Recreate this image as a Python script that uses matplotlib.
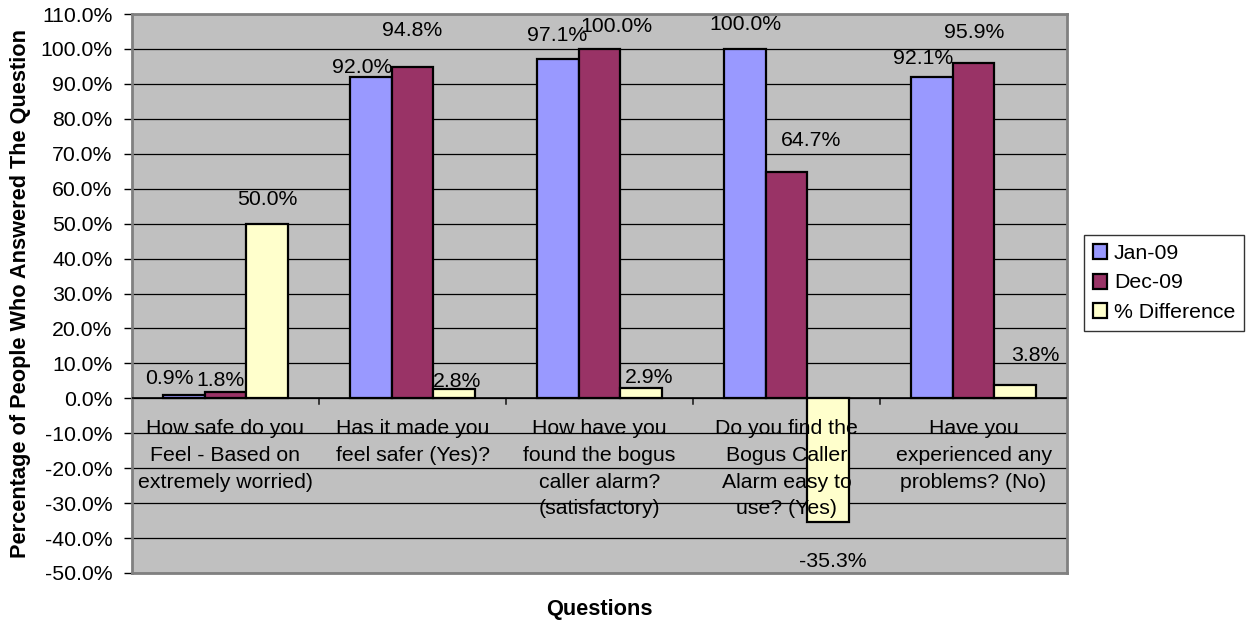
import matplotlib
matplotlib.use("Agg")
import matplotlib.pyplot as plt
import numpy as np

categories = [
    "How safe do you\nFeel - Based on\nextremely worried)",
    "Has it made you\nfeel safer (Yes)?",
    "How have you\nfound the bogus\ncaller alarm?\n(satisfactory)",
    "Do you find the\nBogus Caller\nAlarm easy to\nuse? (Yes)",
    "Have you\nexperienced any\nproblems? (No)",
]
series_names = ["Jan-09", "Dec-09", "% Difference"]
jan09 = [0.9, 92.0, 97.1, 100.0, 92.1]
dec09 = [1.8, 94.8, 100.0, 64.7, 95.9]
pct_diff = [50.0, 2.8, 2.9, -35.3, 3.8]
yticks = list(range(-50, 111, 10))

colors = ["#9999FF", "#993366", "#FFFFCC"]

# label offsets (pixels) relative to bar end, mimicking Excel's placement
label_offsets = [
    [(-15, 17), (-9, 9), (-1, 24), (0, 24), (-9, 18)],
    [(-5, 12), (0, 37), (17, 22), (25, 32), (1, 31)],
    [(0, 24), (3, 7), (8, 11), (5, -40), (20, 30)],
]

plt.rcParams['font.family'] = ['Liberation Sans', 'DejaVu Sans']
fs = 15.3
fs_title = 15.7

fig = plt.figure(figsize=(12.51, 6.21), dpi=100)
ax = fig.add_axes([132/1251, 1-573/621, (1067-132)/1251, (573-14)/621])
ax.set_facecolor("#C0C0C0")
for s in ax.spines.values():
    s.set_color("#808080")
    s.set_linewidth(2)

x = np.arange(len(categories))
w = 0.222
data = [jan09, dec09, pct_diff]
for i, (vals, c, name) in enumerate(zip(data, colors, series_names)):
    xs = x + (i - 1) * w
    ax.bar(xs, vals, width=w, color=c, edgecolor="black", linewidth=1.6,
           label=name, zorder=3)
    for j, (xx, v) in enumerate(zip(xs, vals)):
        dx, dy = label_offsets[i][j]
        ax.annotate(f"{v:.1f}%", xy=(xx, v), xytext=(dx, dy),
                    textcoords="offset pixels", ha="center", va="center",
                    fontsize=fs, zorder=5)

ax.set_xlim(-0.5, len(categories) - 0.5)
ax.set_ylim(-50, 110)
ax.set_yticks(yticks)
ax.set_yticklabels([f"{t:.1f}%" for t in yticks], fontsize=fs)
ax.yaxis.grid(True, color="black", linewidth=0.9, zorder=1)
ax.set_axisbelow(True)
ax.tick_params(axis="y", direction="out", length=6, width=1, color="black", pad=8)
ax.set_xticks([])
ax.axhline(0, color="black", linewidth=1.2, zorder=4)

# category boundary ticks on the zero line
for b in np.arange(0.5, len(categories) - 0.5, 1):
    ax.annotate("", xy=(b, 0), xytext=(0, -6), textcoords="offset pixels",
                arrowprops=dict(arrowstyle="-", color="black", lw=1.0,
                                shrinkA=0, shrinkB=0), zorder=4)

for xx, lab in zip(x, categories):
    ax.annotate(lab, xy=(xx, 0), xytext=(0, -21), textcoords="offset pixels",
                ha="center", va="top", fontsize=fs, linespacing=1.51, zorder=6)

fig.text(21/1251, 1-294/621, "Percentage of People Who Answered The Question",
         rotation=90, ha="center", va="center", fontsize=fs_title, fontweight="bold")
fig.text(599.5/1251, 1-610/621, "Questions", ha="center", va="center",
         fontsize=fs_title, fontweight="bold")

leg = fig.legend(loc="center left", bbox_to_anchor=(1084/1251, 1-283/621),
                 fontsize=fs, frameon=True, fancybox=False, handlelength=0.7,
                 handleheight=0.7, handletextpad=0.3, borderpad=0.4,
                 labelspacing=0.5, borderaxespad=0)
leg.get_frame().set_edgecolor("black")
leg.get_frame().set_linewidth(1.0)

fig.savefig("out.png", dpi=100)
